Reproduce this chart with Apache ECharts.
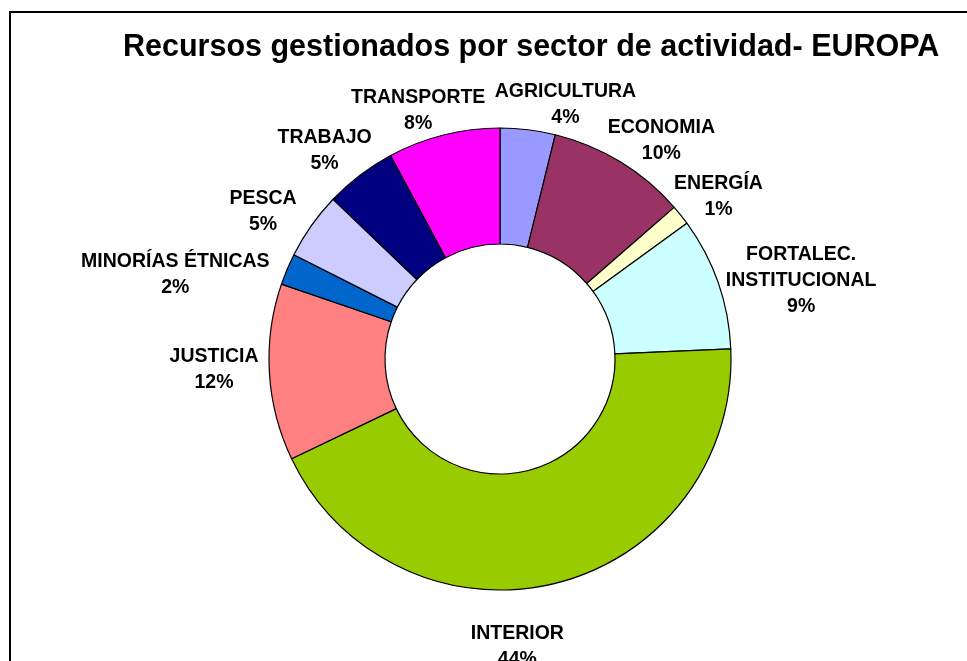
<!DOCTYPE html>
<html>
<head>
<meta charset="utf-8">
<script src="https://cdn.jsdelivr.net/npm/echarts@6/dist/echarts.min.js"></script>
<style>
  html, body { margin: 0; padding: 0; background: #fff; }
  #chart { width: 967px; height: 661px; }
</style>
</head>
<body>
<div id="chart"></div>
<script>
// sectores, en el orden de las agujas del reloj desde arriba
const categories = ['AGRICULTURA', 'ECONOMIA', 'ENERGÍA', 'FORTALEC.\nINSTITUCIONAL', 'INTERIOR',
    'JUSTICIA', 'MINORÍAS ÉTNICAS', 'PESCA', 'TRABAJO', 'TRANSPORTE'];
const values = [3.85, 9.75, 1.4, 9.3, 43.6, 12.35, 2.2, 4.7, 5.0, 7.85];
const colors = ['#9999FF', '#993366', '#FFFFCC', '#CCFFFF', '#99CC00',
    '#FF8080', '#0066CC', '#CCCCFF', '#000080', '#FF00FF'];
// etiquetas movidas a mano en el original (px)
const labelNudge = [[29, 1], [13, 1], [3, -2], [12, 11], [-50, 38],
    [-11, -4], [-25, 15], [-21, 1], [-7, -4], [-9, 1]];

const CX = 500, CY = 359, R_OUT = 231, R_IN = 115;
const total = values.reduce((a, b) => a + b, 0);

const chart = echarts.init(document.getElementById('chart'));

// etiquetas al estilo Excel: caja pegada al borde exterior en la dirección del ángulo medio
function placeLabel(p) {
    const i = p.dataIndex;
    let before = 0;
    for (let k = 0; k < i; k++) before += values[k];
    const mid = (before + values[i] / 2) / total * Math.PI * 2;
    const ux = Math.sin(mid), uy = -Math.cos(mid);
    const w = p.labelRect.width, h = p.labelRect.height;
    return {
        x: CX + R_OUT * ux + w / 2 * ux + labelNudge[i][0],
        y: CY + R_OUT * uy + h / 2 * uy + labelNudge[i][1],
        align: 'center',
        verticalAlign: 'middle',
    };
}

chart.setOption({
    animation: false,
    backgroundColor: '#fff',
    title: {
        text: 'Recursos gestionados por sector de actividad- EUROPA',
        left: 118,
        top: 27,
        textStyle: {
            fontFamily: 'Liberation Sans, Arial, sans-serif',
            fontWeight: 'bold',
            fontSize: 30.5,
            color: '#000',
        },
    },
    graphic: [{
        type: 'rect',
        shape: { x: 10, y: 12, width: 1000, height: 700 },
        style: { fill: 'none', stroke: '#000', lineWidth: 2 },
        silent: true,
    }],
    series: [{
        type: 'pie',
        center: [CX, CY],
        radius: [R_IN, R_OUT],
        startAngle: 90,
        clockwise: true,
        avoidLabelOverlap: false,
        itemStyle: { borderColor: '#000', borderWidth: 1.2 },
        label: {
            show: true,
            position: 'outside',
            fontFamily: 'Liberation Sans, Arial, sans-serif',
            fontWeight: 'bold',
            fontSize: 19.5,
            lineHeight: 26,
            color: '#000',
            formatter: p => p.name + '\n' + Math.round(p.percent) + '%',
        },
        labelLine: { show: false },
        labelLayout: placeLabel,
        emphasis: { disabled: true },
        data: categories.map((c, i) => ({ name: c, value: values[i], itemStyle: { color: colors[i] } })),
    }],
});
</script>
</body>
</html>
